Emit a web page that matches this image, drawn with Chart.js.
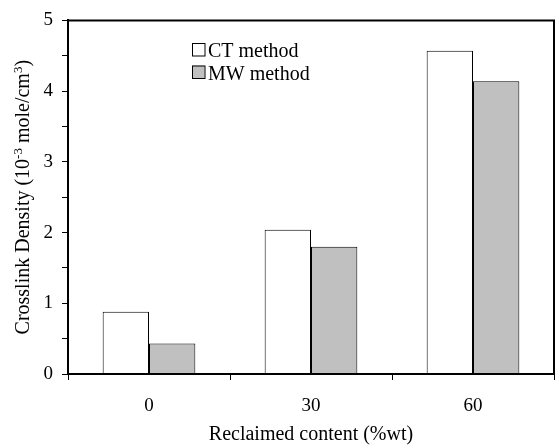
<!DOCTYPE html>
<html>
<head>
<meta charset="utf-8">
<script src="https://cdn.jsdelivr.net/npm/chart.js@4/dist/chart.umd.min.js"></script>
<style>
html,body{margin:0;padding:0;background:#fff;}
#c{display:block;}
</style>
</head>
<body>
<canvas id="c" width="556" height="447"></canvas>
<script>
const categories = ['0', '30', '60'];
const seriesNames = ['CT method', 'MW method'];
const ctValues = [0.88, 2.04, 4.57];
const mwValues = [0.43, 1.80, 4.14];
const xTitle = 'Reclaimed content (%wt)';
const yTitleParts = [['Crosslink Density (10', false], ['-3', true], [' mole/cm', false], ['3', true], [')', false]];

const FONT = '"Liberation Serif", "Times New Roman", serif';

const framePlugin = {
  id: 'frame',
  afterDatasetsDraw(chart) {
    const {ctx, chartArea: a} = chart;
    ctx.save();
    ctx.strokeStyle = '#000';
    ctx.lineWidth = 2;
    ctx.beginPath();
    ctx.moveTo(a.left, a.bottom);
    ctx.lineTo(a.left, a.top);
    ctx.lineTo(a.right, a.top);
    ctx.lineTo(a.right, a.bottom);
    ctx.lineTo(a.left, a.bottom);
    ctx.stroke();
    ctx.restore();
  }
};

const legendPlugin = {
  id: 'innerLegend',
  afterDraw(chart) {
    const {ctx} = chart;
    ctx.save();
    ctx.font = '20px ' + FONT;
    ctx.textBaseline = 'alphabetic';
    ctx.fillStyle = '#000';
    const x0 = 192, y0 = 43, box = 12.5, gap = 22.5;
    chart.data.datasets.forEach((ds, i) => {
      const y = y0 + i * gap;
      ctx.fillStyle = ds.backgroundColor;
      ctx.fillRect(x0, y, box, box);
      ctx.strokeStyle = '#000';
      ctx.lineWidth = 1;
      ctx.strokeRect(x0 + 0.5, y + 0.5, box, box);
      ctx.fillStyle = '#000';
      ctx.fillText(ds.label, x0 + 16, y + 14);
    });
    ctx.restore();
  }
};

const yTitlePlugin = {
  id: 'yTitle',
  afterDraw(chart) {
    const {ctx, chartArea: a} = chart;
    const big = '20px ' + FONT, small = '13px ' + FONT;
    ctx.save();
    let total = 0;
    yTitleParts.forEach(([t, sup]) => { ctx.font = sup ? small : big; total += ctx.measureText(t).width; });
    const cy = (a.top + a.bottom) / 2;
    ctx.translate(29, cy);
    ctx.rotate(-Math.PI / 2);
    ctx.fillStyle = '#000';
    ctx.textBaseline = 'alphabetic';
    let x = -total / 2;
    yTitleParts.forEach(([t, sup]) => {
      ctx.font = sup ? small : big;
      ctx.fillText(t, x, sup ? -7 : 0);
      x += ctx.measureText(t).width;
    });
    ctx.restore();
  }
};

new Chart(document.getElementById('c'), {
  type: 'bar',
  data: {
    labels: categories,
    datasets: [
      {label: seriesNames[0], data: ctValues, backgroundColor: '#ffffff', borderColor: '#000', borderWidth: 1},
      {label: seriesNames[1], data: mwValues, backgroundColor: '#c0c0c0', borderColor: '#000', borderWidth: 1}
    ]
  },
  options: {
    responsive: false,
    animation: false,
    devicePixelRatio: 1,
    layout: {padding: {left: 0, right: 2, top: 19, bottom: 0}},
    datasets: {bar: {categoryPercentage: 0.572, barPercentage: 1.0}},
    plugins: {legend: {display: false}, tooltip: {enabled: false}},
    scales: {
      x: {
        afterFit(s) { s.height = 73; },
        grid: {display: true, drawOnChartArea: false, drawTicks: true, tickLength: 6, offset: true, color: '#000', lineWidth: 1},
        border: {display: true, color: '#000', width: 2},
        ticks: {color: '#000', font: {family: FONT, size: 19}, padding: 15},
        title: {display: true, text: xTitle, color: '#000', font: {family: FONT, size: 20}, padding: {top: 0, bottom: 0}}
      },
      y: {
        min: 0, max: 5,
        afterFit(s) { s.width = 68; },
        grid: {display: true, drawOnChartArea: false, drawTicks: true, tickLength: 6, color: '#000', lineWidth: 1},
        border: {display: true, color: '#000', width: 2},
        ticks: {stepSize: 0.5, color: '#000', font: {family: FONT, size: 19}, padding: 9,
          callback: (v) => Number.isInteger(v) ? String(v) : ''}
      }
    }
  },
  plugins: [framePlugin, legendPlugin, yTitlePlugin]
});
</script>
</body>
</html>
